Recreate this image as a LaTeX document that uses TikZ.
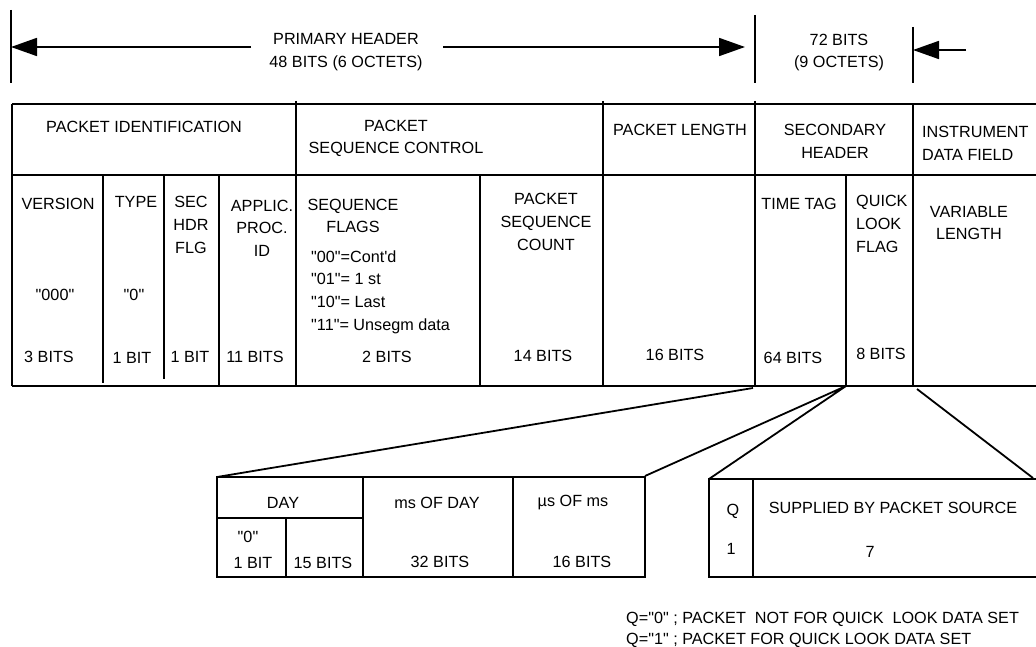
\documentclass[tikz,border=0pt]{standalone}
\usepackage{fontspec}
\setmainfont{Liberation Sans}[Ligatures=TeXOff]
\usetikzlibrary{arrows.meta}
\tikzset{
  rule/.style={line width=1.8pt},
  lbl/.style={inner sep=0pt, font=\fontsize{16.2}{22.6}\selectfont, align=center},
  dimarrow/.style={line width=1.8pt, -{Triangle[length=26pt,width=18pt]}}
}

\begin{document}
\begin{tikzpicture}[x=1pt,y=-1pt]
  \useasboundingbox (0,0) rectangle (1036,647);

  % dimension arrows above the packet
  \coordinate (prim-l) at (11,47);
  \coordinate (prim-r) at (745,47);
  \coordinate (sec-r) at (913,50);
  \node[lbl] (prim) at (346,52) {PRIMARY HEADER\\48 BITS (6 OCTETS)};
  \node[lbl] (secbits) at (839,52.5) {72 BITS\\(9 OCTETS)};
  \draw[rule] (11,10) -- (11,83) (755,15) -- (755,83) (913,27) -- (913,83);
  \draw[dimarrow] (251,47) -- (prim-l);
  \draw[dimarrow] (443,47) -- (prim-r);
  \draw[dimarrow] (966,50) -- (sec-r);

  % packet table
  \draw[rule] (12,104) -- (1036,104) (12,175) -- (1036,175) (12,386) -- (1036,386)
    (12,104) -- (12,386);
  \draw[rule] (296,101) -- (296,386) (603,101) -- (603,386) (755,101) -- (755,386)
    (913,104) -- (913,386);
  \draw[rule] (103,175) -- (103,383) (164,175) -- (164,379) (219,175) -- (219,386)
    (480,175) -- (480,386) (846,175) -- (846,386);

  \node[lbl] (pid) at (144,127) {PACKET IDENTIFICATION};
  \node[lbl] (psc) at (396,138.5) {PACKET\\SEQUENCE CONTROL};
  \node[lbl] (plen) at (680,130) {PACKET LENGTH};
  \node[lbl] (shdr) at (835,141.5) {SECONDARY\\HEADER};
  \node[lbl, align=left, anchor=west] (idf) at (922,143.5) {INSTRUMENT\\DATA FIELD};

  \node[lbl] (ver) at (58,204) {VERSION};
  \node[lbl] (ver-v) at (55,295) {"000"};
  \node[lbl] (ver-b) at (49,357) {3 BITS};
  \node[lbl] (typ) at (136,202) {TYPE};
  \node[lbl] (typ-v) at (134,295) {"0"};
  \node[lbl] (typ-b) at (132,358) {1 BIT};
  \node[lbl] (shf) at (191,225) {SEC\\HDR\\FLG};
  \node[lbl] (shf-b) at (190,357) {1 BIT};
  \node[lbl] (apid) at (262,228) {APPLIC.\\PROC.\\ID};
  \node[lbl] (apid-b) at (255,357) {11 BITS};
  \node[lbl] (sqf) at (353,216) {SEQUENCE\\FLAGS};
  \node[lbl, align=left, anchor=west] (sqf-v) at (311,292)
    {"00"=Cont'd\\"01"= 1 st\\"10"= Last\\"11"= Unsegm data};
  \node[lbl] (sqf-b) at (387,357) {2 BITS};
  \node[lbl] (cnt) at (546,222) {PACKET\\SEQUENCE\\COUNT};
  \node[lbl] (cnt-b) at (543,356) {14 BITS};
  \node[lbl] (plen-b) at (675,355) {16 BITS};
  \node[lbl] (ttag) at (799,204) {TIME TAG};
  \node[lbl] (ttag-b) at (793,358) {64 BITS};
  \node[lbl, align=left, anchor=west] (qlf) at (856,224) {QUICK\\LOOK\\FLAG};
  \node[lbl] (qlf-b) at (881,354) {8 BITS};
  \node[lbl] (var) at (969,223) {VARIABLE\\LENGTH};

  % time tag breakdown
  \draw[rule] (217,477) rectangle (645,577) (363,477) -- (363,577) (513,477) -- (513,577)
    (217,518) -- (363,518) (286,518) -- (286,577);
  \node[lbl] (day) at (283,503) {DAY};
  \node[lbl] (day-v) at (248,537) {"0"};
  \node[lbl] (day-b1) at (253,563) {1 BIT};
  \node[lbl] (day-b2) at (323,563) {15 BITS};
  \node[lbl] (msd) at (437,503) {ms OF DAY};
  \node[lbl] (msd-b) at (440,562) {32 BITS};
  \node[lbl] (usm) at (573,503) {µs OF ms};
  \node[lbl] (usm-b) at (582,562) {16 BITS};

  % quick look flag breakdown
  \draw[rule] (1036,479) -- (709,479) -- (709,577) -- (1036,577) (753,479) -- (753,577);
  \node[lbl] (q) at (733,511) {Q};
  \node[lbl] (q-v) at (731,549) {1};
  \node[lbl] (src) at (893,508) {SUPPLIED BY PACKET SOURCE};
  \node[lbl] (src-v) at (870,552) {7};

  % expansion lines
  \coordinate (tt-l) at (753,388);
  \coordinate (tt-r) at (846,386);
  \coordinate (ql-r) at (917,389);
  \coordinate (tbox-l) at (217,477);
  \coordinate (tbox-r) at (645,476);
  \coordinate (qbox-l) at (709,479);
  \coordinate (qbox-r) at (1033,478);
  \draw[rule] (tbox-l) -- (tt-l) (tbox-r) -- (tt-r) (qbox-l) -- (tt-r) (qbox-r) -- (ql-r);

  \node[lbl, align=left, anchor=west, font=\fontsize{16.2}{21}\selectfont] (notes) at (626,630)
    {Q="0" ; PACKET\ \ NOT FOR QUICK\ \ LOOK DATA SET\\Q="1" ; PACKET FOR QUICK LOOK DATA SET};
\end{tikzpicture}
\end{document}
